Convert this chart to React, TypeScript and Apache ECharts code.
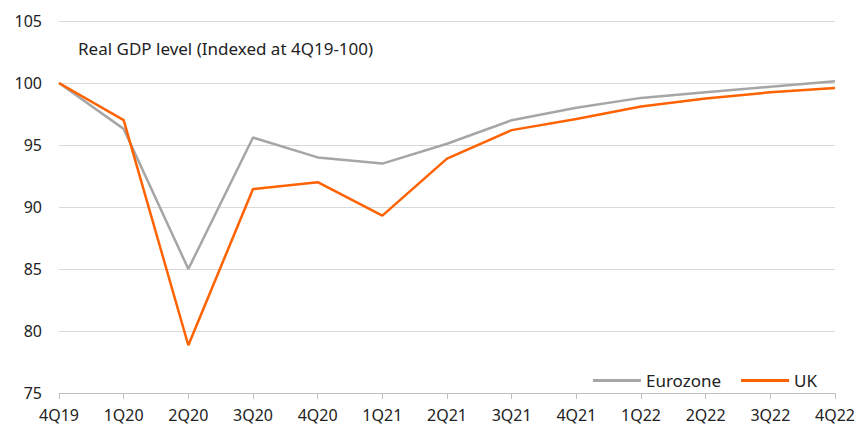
import React, { useEffect, useRef } from "react";
import * as echarts from "echarts";

const categories = ["4Q19", "1Q20", "2Q20", "3Q20", "4Q20", "1Q21", "2Q21", "3Q21", "4Q21", "1Q22", "2Q22", "3Q22", "4Q22"];
const eurozone = [100, 96.3, 85.0, 95.6, 94.0, 93.5, 95.1, 97.0, 98.0, 98.8, 99.25, 99.7, 100.15];
const uk = [100, 97.0, 78.85, 91.45, 92.0, 89.3, 93.9, 96.2, 97.1, 98.1, 98.75, 99.25, 99.6];
const titleText = "Real GDP level (Indexed at 4Q19-100)";

const FONT = "Noto Sans";

export default function App() {
  const ref = useRef<HTMLDivElement>(null);
  useEffect(() => {
    document.body.style.margin = "0";
    const chart = echarts.init(ref.current!, null, { renderer: "svg" });
    chart.setOption({
      animation: false,
      backgroundColor: "#ffffff",
      textStyle: { fontFamily: FONT },
      grid: { left: 59, right: 21, top: 21, bottom: 36, containLabel: false },
      graphic: [
        {
          type: "text",
          left: 78,
          top: 40,
          style: { text: titleText, font: `17px "${FONT}"`, fill: "#222222" },
        },
      ],
      legend: {
        right: 36,
        top: 367,
        icon: "rect",
        itemWidth: 48,
        itemHeight: 3,
        itemGap: 20,
        textStyle: { fontFamily: FONT, fontSize: 17, color: "#222222" },
        data: ["Eurozone", "UK"],
      },
      xAxis: {
        type: "category",
        data: categories,
        boundaryGap: false,
        axisLine: { lineStyle: { color: "#bfbfbf", width: 1 } },
        axisTick: { show: true, length: 6, lineStyle: { color: "#bfbfbf" } },
        axisLabel: { color: "#222222", fontSize: 16, fontFamily: FONT, margin: 14, interval: 0 },
        splitLine: { show: false },
      },
      yAxis: {
        type: "value",
        min: 75,
        max: 105,
        interval: 5,
        axisLine: { show: false },
        axisTick: { show: false },
        axisLabel: { color: "#222222", fontSize: 16, fontFamily: FONT, margin: 17 },
        splitLine: { lineStyle: { color: "#d9d9d9", width: 1 } },
      },
      series: [
        {
          name: "Eurozone",
          type: "line",
          data: eurozone,
          symbol: "none",
          lineStyle: { color: "#a6a6a6", width: 2.5 },
          itemStyle: { color: "#a6a6a6" },
        },
        {
          name: "UK",
          type: "line",
          data: uk,
          symbol: "none",
          lineStyle: { color: "#ff6200", width: 2.5 },
          itemStyle: { color: "#ff6200" },
        },
      ],
    });
    return () => chart.dispose();
  }, []);
  return <div ref={ref} style={{ width: 858, height: 429 }} />;
}
